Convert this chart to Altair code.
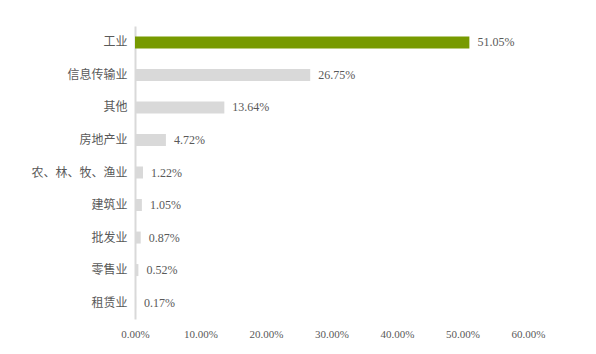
import altair as alt
import pandas as pd

categories = ["工业", "信息传输业", "其他", "房地产业", "农、林、牧、渔业", "建筑业", "批发业", "零售业", "租赁业"]
values = [51.05, 26.75, 13.64, 4.72, 1.22, 1.05, 0.87, 0.52, 0.17]
highlight = ["是", "否", "否", "否", "否", "否", "否", "否", "否"]

df = pd.DataFrame({"行业": categories, "占比": values, "高亮": highlight})
df["标签"] = [f"{v:.2f}%" for v in values]

FONT = "Liberation Serif, Noto Sans CJK SC"

y = alt.Y("行业:N", sort=categories, title=None,
          scale=alt.Scale(paddingInner=0.63, paddingOuter=0.32),
          axis=alt.Axis(ticks=False, domainColor="#d9d9d9", domainWidth=2,
                        labelFont="Noto Sans CJK SC", labelFontSize=12,
                        labelColor="#595959", labelPadding=8))
x = alt.X("占比:Q", title=None,
          scale=alt.Scale(domain=[0, 60], nice=False),
          axis=alt.Axis(values=[0, 10, 20, 30, 40, 50, 60], grid=False, ticks=False,
                        domain=False, labelFlush=False,
                        labelExpr="format(datum.value, '.2f') + '%'",
                        labelFont=FONT, labelFontSize=11, labelColor="#595959",
                        labelPadding=9))

bars = alt.Chart(df).mark_bar(size=12).encode(
    x=x, y=y,
    color=alt.Color("高亮:N", scale=alt.Scale(domain=["是", "否"], range=["#779a00", "#d9d9d9"]), legend=None),
)
labels = alt.Chart(df).mark_text(align="left", baseline="middle", dx=8, font=FONT,
                                 fontSize=12, color="#595959").encode(
    x="占比:Q", y=alt.Y("行业:N", sort=categories), text="标签:N")

chart = (bars + labels).properties(
    width=393, height=293,
    background="white",
    autosize=alt.AutoSizeParams(type="none"),
    padding={"left": 135, "top": 26, "right": 68, "bottom": 35},
).configure_view(strokeWidth=0, stroke="transparent")

chart.save("out.html", embed_options={"renderer": "svg", "actions": False})
